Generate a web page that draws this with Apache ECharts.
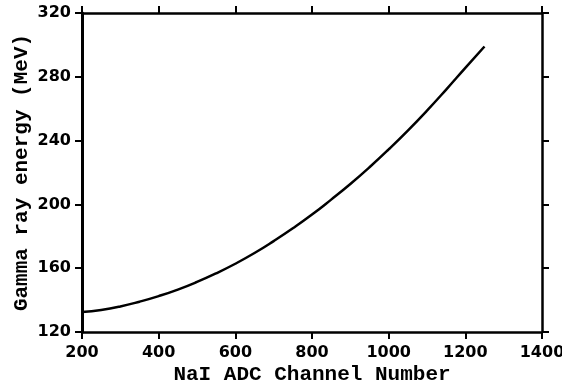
<!DOCTYPE html>
<html>
<head>
<meta charset="utf-8">
<script src="https://cdn.jsdelivr.net/npm/echarts@6/dist/echarts.min.js"></script>
<style>
  html, body { margin: 0; padding: 0; background: #fff; }
  #chart { width: 562px; height: 387px; }
</style>
</head>
<body>
<div id="chart"></div>
<script>
// NaI ADC channel vs gamma ray energy
const channels = [200, 250, 300, 350, 400, 450, 500, 550, 600, 650, 700, 750,
  800, 850, 900, 950, 1000, 1050, 1100, 1150, 1200, 1250];
const energies = [132.5, 133.8, 136.0, 139.0, 142.5, 146.6, 151.4, 156.8, 162.8, 169.5, 177.0, 185.0,
  193.6, 203.0, 212.8, 223.3, 234.5, 246.3, 258.8, 272.0, 285.6, 299.0];
const xTicks = [200, 400, 600, 800, 1000, 1200, 1400];
const yTicks = [120, 160, 200, 240, 280, 320];

let myChart = echarts.init(document.getElementById("chart"));

let axisLine = { show: true, lineStyle: { color: "#000", width: 2.5 } };
let axisTick = { show: true, inside: false, length: 7, lineStyle: { color: "#000", width: 2 } };
let labelFont = { color: "#000", fontFamily: "DejaVu Sans", fontWeight: "bold", fontSize: 16 };
let nameFont = { color: "#000", fontFamily: "Liberation Mono", fontWeight: "bold", fontSize: 21 };

let option = {
  animation: false,
  backgroundColor: "#fff",
  grid: { left: 82, right: 20, top: 13, bottom: 55, outerBoundsMode: "none", containLabel: false },
  xAxis: [
    {
      type: "value",
      min: xTicks[0],
      max: xTicks[xTicks.length - 1],
      interval: 200,
      position: "bottom",
      name: "NaI ADC Channel Number",
      nameLocation: "middle",
      nameGap: 32,
      nameMoveOverlap: false,
      nameTextStyle: nameFont,
      axisLine: axisLine,
      axisTick: axisTick,
      axisLabel: Object.assign({ margin: 13, formatter: (v) => String(v) }, labelFont),
      splitLine: { show: false }
    },
    {
      type: "value",
      min: xTicks[0],
      max: xTicks[xTicks.length - 1],
      interval: 200,
      position: "top",
      axisLine: axisLine,
      axisTick: axisTick,
      axisLabel: { show: false },
      splitLine: { show: false }
    }
  ],
  yAxis: [
    {
      type: "value",
      min: yTicks[0],
      max: yTicks[yTicks.length - 1],
      interval: 40,
      position: "left",
      name: "Gamma ray energy (MeV)",
      nameLocation: "middle",
      nameGap: 50,
      nameMoveOverlap: false,
      nameTextStyle: nameFont,
      axisLine: { show: true, lineStyle: { color: "#000", width: 3 } },
      axisTick: axisTick,
      axisLabel: Object.assign({ margin: 11 }, labelFont),
      splitLine: { show: false }
    },
    {
      type: "value",
      min: yTicks[0],
      max: yTicks[yTicks.length - 1],
      interval: 40,
      position: "right",
      axisLine: axisLine,
      axisTick: axisTick,
      axisLabel: { show: false },
      splitLine: { show: false }
    }
  ],
  series: [
    {
      type: "line",
      data: channels.map((c, i) => [c, energies[i]]),
      smooth: true,
      showSymbol: false,
      lineStyle: { color: "#000", width: 2.5 }
    }
  ]
};

myChart.setOption(option, true);
</script>
</body>
</html>
